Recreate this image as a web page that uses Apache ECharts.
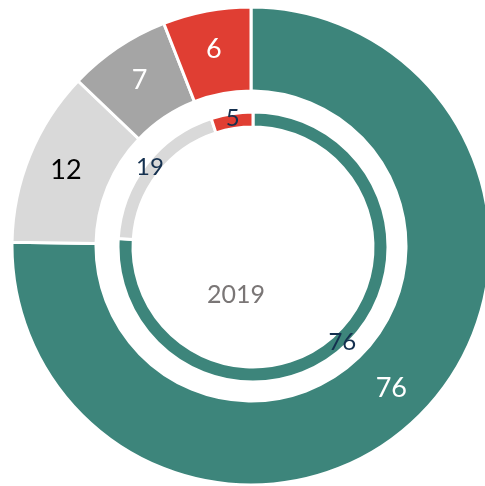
<!DOCTYPE html>
<html>
<head>
<meta charset="utf-8">
<script src="https://cdn.jsdelivr.net/npm/echarts@6/dist/echarts.min.js"></script>
<style>
  html, body { margin: 0; padding: 0; background: #fff; }
  #chart { width: 485px; height: 486px; }
</style>
</head>
<body>
<div id="chart"></div>
<script>
// outer ring
const outerNames = ['A', 'B', 'C', 'D'];
const outerValues = [76, 12, 7, 6];
const outerColors = ['#3d857b', '#d9d9d9', '#a5a5a5', '#e03e33'];
const outerLabelColors = ['#ffffff', '#000000', '#ffffff', '#ffffff'];

// inner ring
const innerNames = ['A', 'B', 'D'];
const innerValues = [76, 19, 5];
const innerColors = ['#3d857b', '#d9d9d9', '#e03e33'];

const centerLabel = '2019';

const chart = echarts.init(document.getElementById('chart'));

const center = [251, 246];

const option = {
  animation: false,
  graphic: [{
    type: 'text',
    left: 207,
    top: 282,
    style: {
      text: centerLabel,
      fill: '#7a7676',
      font: '25px Lato'
    }
  }],
  series: [
    {
      type: 'pie',
      center: center,
      radius: [155, 239],
      startAngle: 90,
      clockwise: true,
      silent: true,
      itemStyle: { borderColor: '#fff', borderWidth: 3 },
      label: {
        show: true,
        position: 'inside',
        formatter: '{c}',
        fontFamily: 'Lato',
        fontSize: 27
      },
      labelLine: { show: false },
      data: outerValues.map((v, i) => ({
        name: outerNames[i],
        value: v,
        itemStyle: { color: outerColors[i] },
        label: { color: outerLabelColors[i] }
      }))
    },
    {
      type: 'pie',
      center: [253, 247],
      radius: [120, 135],
      startAngle: 90,
      clockwise: true,
      silent: true,
      itemStyle: { borderColor: '#fff', borderWidth: 3 },
      label: {
        show: true,
        position: 'inside',
        formatter: '{c}',
        fontFamily: 'Lato',
        fontSize: 24,
        color: '#14304f'
      },
      labelLine: { show: false },
      data: innerValues.map((v, i) => ({
        name: innerNames[i],
        value: v,
        itemStyle: { color: innerColors[i] }
      }))
    }
  ]
};

chart.setOption(option);
</script>
</body>
</html>
